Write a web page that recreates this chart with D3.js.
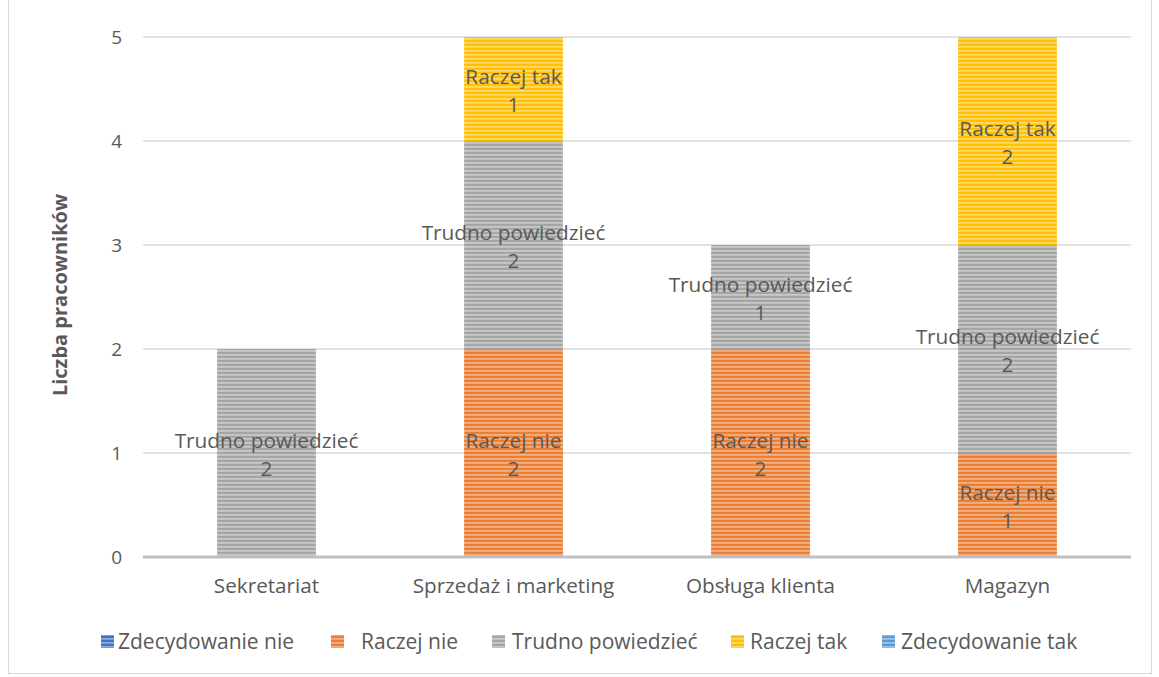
<!DOCTYPE html>
<html>
<head>
<meta charset="utf-8">
<script src="https://cdn.jsdelivr.net/npm/d3@7"></script>
<style>
  html, body { margin: 0; padding: 0; background: #fff; }
  svg text { font-family: "Open Sans", "Liberation Sans", sans-serif; fill: #595959; }
</style>
</head>
<body>
<svg id="chart" width="1159" height="677"></svg>
<script>
// Departments on the x axis
const categories = ["Sekretariat", "Sprzedaż i marketing", "Obsługa klienta", "Magazyn"];

// Answer series (stacked bottom to top)
const seriesNames = ["Zdecydowanie nie", "Raczej nie", "Trudno powiedzieć", "Raczej tak", "Zdecydowanie tak"];
const zdecydowanieNie = [0, 0, 0, 0];
const raczejNie = [0, 2, 2, 1];
const trudnoPowiedziec = [2, 2, 1, 2];
const raczejTak = [0, 1, 0, 2];
const zdecydowanieTak = [0, 0, 0, 0];

const yTicks = [0, 1, 2, 3, 4, 5];
const yTitle = "Liczba pracowników";

const colors = ["#4472C4", "#ED7D31", "#A5A5A5", "#FFC000", "#5B9BD5"];

const rows = categories.map((c, i) => ({
  category: c,
  "Zdecydowanie nie": zdecydowanieNie[i],
  "Raczej nie": raczejNie[i],
  "Trudno powiedzieć": trudnoPowiedziec[i],
  "Raczej tak": raczejTak[i],
  "Zdecydowanie tak": zdecydowanieTak[i]
}));

const svg = d3.select("#chart");
const W = 1159, H = 677;

// Chart frame
svg.append("rect")
  .attr("x", 8.5).attr("y", -2).attr("width", 1143).attr("height", H - 1.5)
  .attr("fill", "none").attr("stroke", "#D9D9D9").attr("stroke-width", 1);

// Striped fills for every series
const defs = svg.append("defs");
seriesNames.forEach((name, i) => {
  const p = defs.append("pattern")
    .attr("id", "pat" + i)
    .attr("patternUnits", "userSpaceOnUse")
    .attr("width", 8).attr("height", 4);
  p.append("rect").attr("width", 8).attr("height", 4).attr("fill", colors[i]);
  p.append("rect").attr("y", 2.2).attr("width", 8).attr("height", 1.4)
    .attr("fill", "#fff").attr("opacity", 0.5);
});

const margin = { left: 143, right: 1131, top: 37, bottom: 557 };

const x = d3.scaleBand().domain(categories)
  .range([margin.left, margin.right]).paddingInner(0.6).paddingOuter(0.3);
const y = d3.scaleLinear().domain([0, 5]).range([margin.bottom, margin.top]);

// Gridlines
svg.append("g").selectAll("line").data(yTicks.filter(t => t > 0)).join("line")
  .attr("x1", margin.left).attr("x2", margin.right)
  .attr("y1", d => y(d)).attr("y2", d => y(d))
  .attr("stroke", "#D9D9D9").attr("stroke-width", 1.3);

// Y axis labels
const yAxis = d3.axisLeft(y).tickValues(yTicks).tickSize(0).tickPadding(21).tickFormat(d3.format("d"));
const yg = svg.append("g").attr("transform", `translate(${margin.left},0)`).call(yAxis);
yg.select(".domain").remove();
yg.selectAll("text").attr("font-size", 19).style("fill", "#595959")
  .attr("font-family", "'Open Sans', sans-serif");

// Stacked bars
const stack = d3.stack().keys(seriesNames);
const stacked = stack(rows);

const layers = svg.append("g").selectAll("g").data(stacked).join("g")
  .attr("fill", (d, i) => `url(#pat${i})`);
layers.selectAll("rect").data(d => d.filter(s => s[1] - s[0] > 0)).join("rect")
  .attr("x", d => x(d.data.category))
  .attr("width", x.bandwidth())
  .attr("y", d => y(d[1]))
  .attr("height", d => y(d[0]) - y(d[1]));

// Value labels: series name and value
const labels = svg.append("g");
stacked.forEach(layer => {
  layer.filter(s => s[1] - s[0] > 0).forEach(s => {
    const cx = x(s.data.category) + x.bandwidth() / 2;
    const cy = (y(s[0]) + y(s[1])) / 2;
    const t = labels.append("text").attr("text-anchor", "middle").attr("font-size", 20.8);
    t.append("tspan").attr("x", cx).attr("y", cy - 5).text(layer.key);
    t.append("tspan").attr("x", cx).attr("y", cy + 23).text(s[1] - s[0]);
  });
});

// X axis baseline and category labels
svg.append("line")
  .attr("x1", margin.left).attr("x2", margin.right)
  .attr("y1", y(0)).attr("y2", y(0))
  .attr("stroke", "#BFBFBF").attr("stroke-width", 3);

const xAxis = d3.axisBottom(x).tickSize(0).tickPadding(21);
const xg = svg.append("g").attr("transform", `translate(0,${y(0)})`).call(xAxis);
xg.select(".domain").remove();
xg.selectAll("text").attr("font-size", 20.7).style("fill", "#595959")
  .attr("font-family", "'Open Sans', sans-serif");

// Axis title
svg.append("text")
  .attr("transform", `translate(67,${(margin.top + margin.bottom) / 2 - 2}) rotate(-90)`)
  .attr("text-anchor", "middle").attr("font-size", 20).attr("font-weight", "bold")
  .text(yTitle);

// Legend
const legendX = [101, 331, 492, 731, 882];
const legendTextX = [118, 361, 512, 750, 901];
const lg = svg.append("g");
seriesNames.forEach((name, i) => {
  lg.append("rect").attr("x", legendX[i]).attr("y", 635).attr("width", 13).attr("height", 13)
    .attr("fill", `url(#pat${i})`);
  lg.append("text").attr("x", legendTextX[i]).attr("y", 649).attr("font-size", 21).text(name);
});
</script>
</body>
</html>
